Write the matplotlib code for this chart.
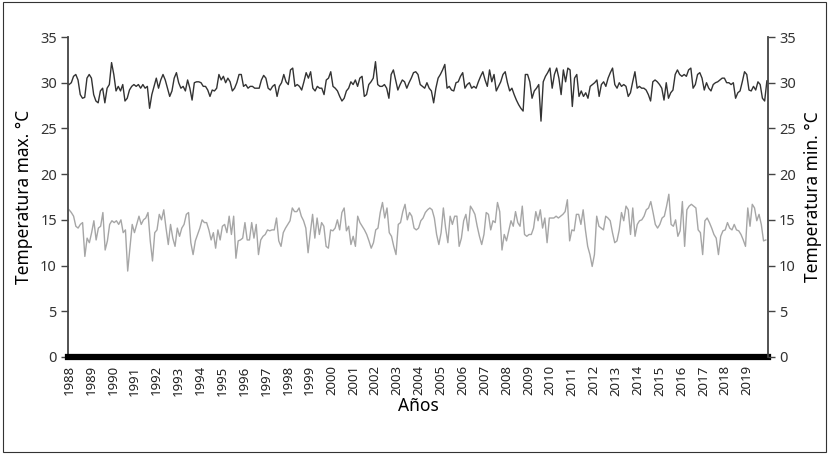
import numpy as np
import matplotlib
matplotlib.use("Agg")
import matplotlib.pyplot as plt
from matplotlib.patches import Rectangle

# readings taken along the chart, left to right (°C)
temp_max = [
    29.8, 30.0, 30.7, 30.9, 30.3, 28.7, 28.3, 28.4, 30.5, 30.9, 30.5, 28.7,
    28.0, 27.8, 29.1, 29.4, 27.8, 29.4, 29.8, 32.2, 30.9, 29.1, 29.6, 29.1,
    29.8, 28.0, 28.3, 29.2, 29.6, 29.8, 29.6, 29.8, 29.4, 29.8, 29.4, 29.6,
    27.2, 28.7, 29.6, 30.5, 29.4, 30.3, 30.9, 30.3, 29.4, 28.5, 29.1, 30.5,
    31.1, 30.0, 29.4, 29.6, 29.1, 30.3, 29.4, 28.1, 30.0, 30.1, 30.1, 30.0,
    29.6, 29.6, 29.2, 28.5, 29.2, 29.1, 29.4, 30.9, 30.3, 30.7, 30.0, 30.5,
    30.1, 29.1, 29.4, 30.0, 30.9, 30.9, 29.6, 29.8, 29.4, 29.6, 29.6, 29.4,
    29.4, 29.4, 30.3, 30.8, 30.5, 29.4, 29.2, 29.6, 29.8, 28.5, 29.6, 30.0,
    30.9, 30.1, 29.8, 31.4, 31.6, 29.6, 29.8, 29.6, 29.2, 30.1, 31.1, 30.5,
    31.2, 29.4, 29.1, 29.6, 29.4, 29.4, 28.7, 30.3, 30.5, 31.2, 29.6, 29.4,
    29.1, 28.5, 28.0, 28.3, 29.1, 29.4, 30.1, 29.8, 30.3, 29.6, 30.5, 30.7,
    28.5, 28.7, 29.8, 30.1, 30.5, 32.3, 29.8, 29.6, 29.6, 29.8, 29.4, 28.3,
    30.9, 31.4, 30.3, 29.2, 29.8, 30.3, 30.1, 29.4, 30.0, 30.5, 31.1, 31.2,
    30.9, 29.8, 29.6, 29.4, 30.0, 29.4, 29.1, 27.8, 29.4, 30.5, 30.9, 31.4,
    32.0, 29.4, 29.6, 29.2, 29.1, 30.0, 30.1, 30.7, 31.1, 29.4, 29.8, 30.0,
    29.4, 29.6, 29.4, 30.1, 30.7, 31.2, 30.3, 29.6, 31.4, 30.1, 30.9, 29.1,
    29.6, 30.1, 30.9, 31.2, 30.0, 29.1, 29.4, 28.7, 28.1, 27.6, 27.2, 26.9,
    30.9, 30.9, 30.1, 28.3, 29.1, 29.4, 29.8, 25.8, 30.1, 30.7, 31.1, 31.6,
    29.4, 30.9, 31.6, 30.5, 28.7, 31.4, 30.1, 31.6, 31.4, 27.4, 30.5, 30.9,
    28.5, 29.1, 28.5, 28.9, 28.3, 29.6, 29.8, 30.0, 30.3, 28.5, 29.8, 30.1,
    29.6, 30.5, 31.1, 31.6, 29.8, 29.4, 30.0, 29.6, 29.8, 29.6, 28.5, 28.9,
    30.1, 31.2, 29.4, 29.6, 29.4, 29.4, 29.2, 28.7, 28.0, 30.1, 30.3, 30.1,
    29.8, 29.4, 28.1, 30.0, 28.3, 28.9, 29.2, 30.9, 31.4, 30.9, 30.7, 30.9,
    30.7, 31.4, 31.6, 29.4, 29.8, 30.9, 31.1, 30.5, 29.2, 30.0, 29.4, 29.1,
    29.8, 30.0, 30.1, 30.3, 30.5, 30.5, 30.0, 30.0, 29.8, 30.0, 28.3, 28.9,
    29.1, 30.1, 31.2, 30.9, 29.2, 29.1, 29.6, 29.2, 30.1, 29.8, 28.3, 28.0,
    30.2,
]

temp_min = [
    16.1, 15.8, 15.4, 14.3, 14.1, 14.5, 14.7, 11.0, 13.0, 12.5, 13.6, 14.9,
    12.8, 14.1, 14.3, 15.8, 11.7, 12.7, 14.5, 14.9, 14.7, 14.9, 14.5, 15.0,
    13.6, 13.9, 9.4, 11.9, 14.5, 13.6, 14.5, 15.4, 14.5, 15.0, 15.2, 15.8,
    12.7, 10.5, 13.6, 13.9, 15.6, 15.0, 16.1, 14.1, 12.3, 14.5, 13.0, 12.1,
    14.1, 13.2, 14.1, 14.5, 15.6, 15.8, 12.5, 11.2, 12.7, 13.4, 14.1, 15.0,
    14.7, 14.7, 13.9, 12.8, 13.6, 11.9, 13.9, 12.8, 14.3, 14.5, 13.6, 15.4,
    13.4, 15.4, 10.8, 12.7, 12.8, 13.0, 14.7, 12.8, 12.8, 14.7, 13.0, 14.5,
    11.2, 12.8, 13.2, 13.4, 13.9, 13.8, 13.9, 13.9, 15.2, 12.7, 12.1, 13.6,
    14.1, 14.5, 14.9, 16.3, 15.9, 15.9, 16.3, 15.4, 14.9, 14.1, 11.4, 13.6,
    15.6, 13.0, 15.2, 13.4, 14.7, 14.3, 12.1, 11.9, 13.9, 13.8, 14.1, 15.0,
    13.9, 15.8, 16.3, 13.8, 14.3, 12.3, 13.2, 12.1, 15.4, 14.7, 14.3, 13.9,
    13.4, 12.7, 11.9, 12.5, 13.9, 14.1, 15.8, 16.9, 15.2, 16.3, 13.6, 13.2,
    12.1, 11.2, 14.5, 14.7, 15.9, 16.7, 15.0, 15.8, 15.4, 14.1, 13.9, 14.1,
    14.9, 15.2, 15.8, 16.1, 16.3, 16.1, 15.2, 13.4, 12.3, 13.6, 16.3, 14.1,
    12.5, 15.4, 14.5, 15.4, 15.4, 12.1, 13.0, 14.9, 15.6, 13.8, 16.5, 16.1,
    15.6, 14.3, 13.2, 12.3, 13.4, 15.8, 15.6, 13.9, 14.9, 14.7, 16.9, 15.9,
    11.7, 13.4, 12.7, 13.8, 14.9, 14.3, 15.9, 14.7, 14.3, 16.5, 13.4, 13.2,
    13.4, 13.4, 14.1, 15.9, 14.9, 16.1, 14.1, 15.2, 12.5, 15.2, 15.2, 15.2,
    15.4, 15.2, 15.4, 15.6, 15.9, 17.2, 12.7, 13.9, 13.8, 15.6, 15.6, 14.5,
    16.1, 13.9, 12.1, 11.2, 9.9, 11.2, 15.4, 14.3, 14.1, 13.9, 15.4, 15.2,
    14.9, 13.6, 12.5, 12.7, 13.9, 15.8, 14.9, 16.5, 16.1, 13.4, 16.3, 13.2,
    14.5, 14.9, 15.0, 15.4, 16.1, 16.3, 17.0, 15.8, 14.5, 14.1, 14.5, 15.2,
    15.4, 16.5, 17.8, 14.5, 14.3, 15.0, 13.2, 13.8, 17.0, 12.1, 16.1, 16.5,
    16.7, 16.5, 16.3, 13.9, 13.6, 11.2, 14.9, 15.2, 14.7, 14.1, 13.4, 13.0,
    11.2, 13.2, 13.8, 13.9, 14.7, 14.1, 13.9, 14.5, 13.9, 13.8, 13.4, 12.8,
    12.1, 16.3, 14.3, 16.7, 16.3, 14.9, 15.6, 14.5, 12.7, 12.8,
]

years = list(range(1988, 2020))
year_labels = [str(y) for y in years]

plt.rcParams["font.family"] = ["Noto Sans", "DejaVu Sans"]

fig = plt.figure(figsize=(8.29, 4.54), dpi=100)
ax = fig.add_axes([0.082, 0.2137, 0.8444, 0.7048])

x_max = np.linspace(1988.0, 2019.9, len(temp_max))
x_min = np.linspace(1988.0, 2019.85, len(temp_min))
ax.plot(x_max, temp_max, color="#333333", lw=1.0)
ax.plot(x_min, temp_min, color="#a6a6a6", lw=1.0)

ax.set_xlim(1987.95, 2019.95)
ax.set_ylim(0, 35)
ax.set_yticks(range(0, 36, 5))
ax.set_xticks(years)
ax.set_xticklabels(year_labels, rotation=90, fontsize=9.5, color="#222222")
ax.tick_params(axis="x", length=0, pad=6)
ax.tick_params(axis="y", direction="out", length=5, width=1.0,
               color="#444444", labelsize=10.5, labelcolor="#333333", pad=3)

for s in ["top", "right"]:
    ax.spines[s].set_visible(False)
ax.spines["left"].set_color("#444444")
ax.spines["left"].set_linewidth(1.3)
ax.spines["bottom"].set_color("black")
ax.spines["bottom"].set_linewidth(4.5)

ax.set_ylabel("Temperatura max. °C", fontsize=12.5, labelpad=5)
ax.set_xlabel("Años", fontsize=12.5, labelpad=1)

ax2 = ax.twinx()
ax2.set_ylim(0, 35)
ax2.set_yticks(range(0, 36, 5))
ax2.tick_params(axis="y", direction="out", length=5, width=1.0,
                color="#444444", labelsize=10.5, labelcolor="#333333", pad=3)
for s in ["top", "left", "bottom"]:
    ax2.spines[s].set_visible(False)
ax2.spines["right"].set_color("#444444")
ax2.spines["right"].set_linewidth(1.3)
ax2.set_ylabel("Temperatura min. °C", fontsize=12.5, labelpad=6)

fig.patches.append(Rectangle((0.004, 0.004), 0.992, 0.992, transform=fig.transFigure,
                             fill=False, edgecolor="#333333", linewidth=0.8))

fig.savefig("out.png", dpi=100)
